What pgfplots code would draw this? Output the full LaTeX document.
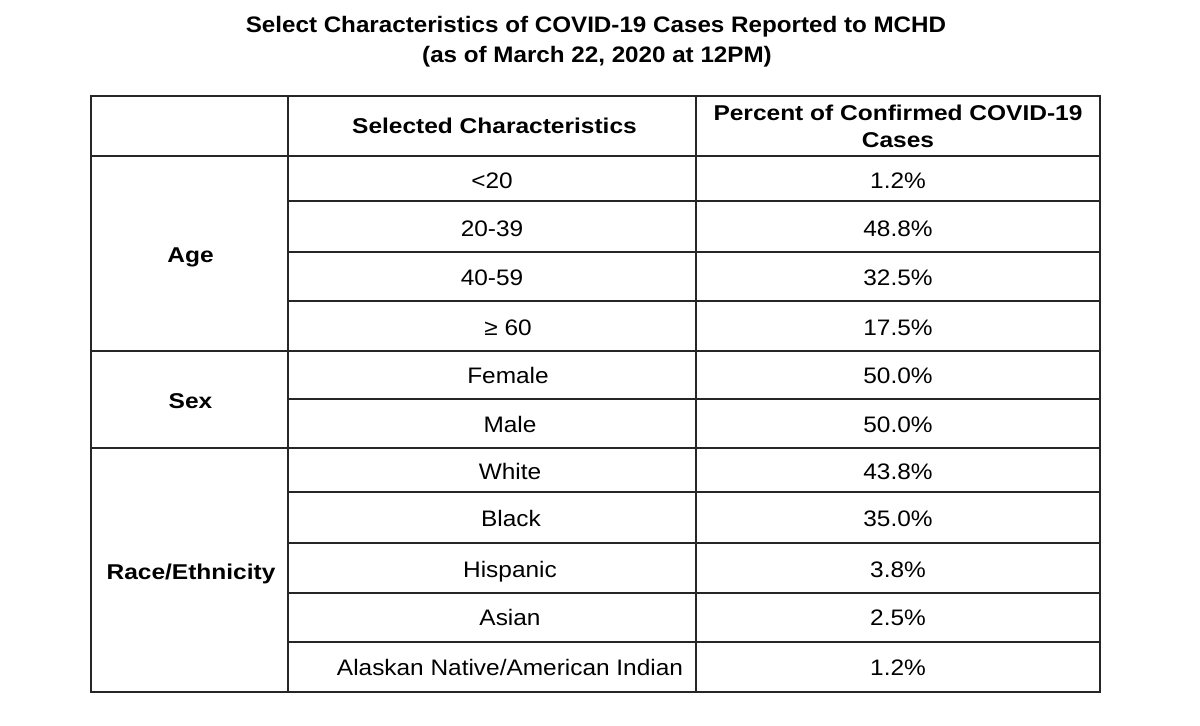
\documentclass[border=0pt]{standalone}
\usepackage{graphicx}
\usepackage{pgfplots}
\pgfplotsset{compat=1.18}
\usepackage{pgfplotstable}
\usepackage{fontspec}
\setmainfont{Liberation Sans}

\newcommand{\bodyfont}{\fontsize{11.2}{13}\selectfont}
\newcommand{\headfont}{\bfseries\fontsize{10.7}{12}\selectfont}
\newcommand{\titlefont}{\bfseries\fontsize{11.2}{13}\selectfont}
\newcommand{\bodytxt}[1]{\scalebox{1.09}[1]{#1}}
\newcommand{\headtxt}[1]{\scalebox{1.145}[1]{#1}}
\newcommand{\titletxt}[1]{\scalebox{1.08}[1]{#1}}

% percent column: x = centre of cell (px), y = centre of row (px), value
\pgfplotstableread{
x   y      pct
898 180    1.2
898 228    48.8
898 277    32.5
898 327    17.5
898 375.3  50.0
898 424    50.0
898 471    43.8
898 518    35.0
898 569    3.8
898 617    2.5
898 667.5  1.2
}\pcttable

\begin{document}
\begin{tikzpicture}
\begin{axis}[
  scale only axis, width=600pt, height=362.5pt,
  xmin=0, xmax=1200, ymin=0, ymax=725, y dir=reverse,
  hide axis, clip=false,
  /pgf/number format/assume math mode=true,
]
\fill[white] (axis cs:0,0) rectangle (axis cs:1200,725);

% title
\node[font=\titlefont, anchor=base, yshift=-4.0pt, inner sep=0pt] at (axis cs:596,24.5)
  {\titletxt{Select Characteristics of COVID-19 Cases Reported to MCHD}};
\node[font=\titlefont, anchor=base, yshift=-4.0pt, inner sep=0pt] at (axis cs:597,54.7)
  {\titletxt{(as of March 22, 2020 at 12PM)}};

% table grid
\draw[line width=1pt, black!85] (axis cs:91,96) rectangle (axis cs:1100,692);
\draw[line width=1pt, black!85] (axis cs:288,96) -- (axis cs:288,692);
\draw[line width=1pt, black!85] (axis cs:696,96) -- (axis cs:696,692);
\draw[line width=1pt, black!85] (axis cs:91,156) -- (axis cs:1100,156);
\draw[line width=1pt, black!85] (axis cs:91,351) -- (axis cs:1100,351);
\draw[line width=1pt, black!85] (axis cs:91,448) -- (axis cs:1100,448);
\pgfplotsinvokeforeach{201,252,301,399,492,543,593,642}{
  \draw[line width=1pt, black!85] (axis cs:288,#1) -- (axis cs:1100,#1);
}

% headers
\tikzset{hd/.style={font=\headfont, anchor=base, yshift=-3.83pt, inner sep=0pt}}
\node[hd] at (axis cs:494.5,126) {\headtxt{Selected Characteristics}};
\node[hd] at (axis cs:898,113) {\headtxt{Percent of Confirmed COVID-19}};
\node[hd] at (axis cs:898,140) {\headtxt{Cases}};

% group labels
\node[hd] at (axis cs:190.5,255) {\headtxt{Age}};
\node[hd] at (axis cs:190.5,401) {\headtxt{Sex}};
\node[hd] at (axis cs:191,571.7) {\headtxt{Race/Ethnicity}};

% characteristic labels
\addplot[draw=none, mark=none, point meta=explicit symbolic,
  nodes near coords={\bodytxt{\pgfplotspointmeta}},
  every node near coord/.append style={anchor=base, yshift=-4pt, inner sep=0pt, font=\bodyfont}]
  table[x=x, y=y, meta=lab, col sep=comma] {
x,y,lab
492,180,<20
492,228,20-39
492,277,40-59
508,327,≥ 60
508,375.3,Female
510,424,Male
510,471,White
511,518,Black
510,569,Hispanic
510,617,Asian
510,667.5,Alaskan Native/American Indian
};

% percentages
\addplot[draw=none, mark=none, point meta=explicit,
  nodes near coords={\bodytxt{\pgfmathprintnumber[fixed, fixed zerofill, precision=1]{\pgfplotspointmeta}\%}},
  every node near coord/.append style={anchor=base, yshift=-4pt, inner sep=0pt, font=\bodyfont}]
  table[x=x, y=y, meta=pct] {\pcttable};
\end{axis}
\end{tikzpicture}
\end{document}
